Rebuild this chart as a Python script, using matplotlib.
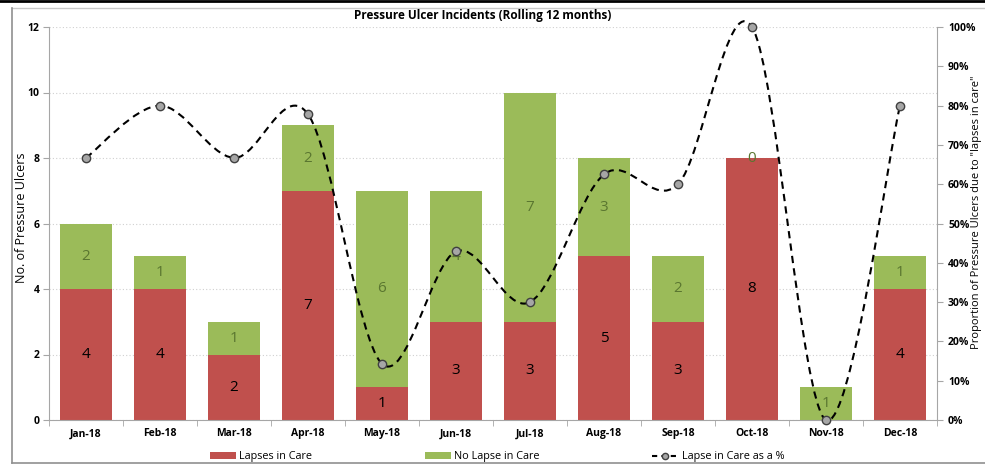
import numpy as np
import matplotlib
matplotlib.use("Agg")
import matplotlib.pyplot as plt
from matplotlib.lines import Line2D
from matplotlib.patches import Patch
from matplotlib.path import Path
from matplotlib.patches import PathPatch

plt.rcParams['font.family'] = ['Open Sans', 'DejaVu Sans']

months = ["Jan-18", "Feb-18", "Mar-18", "Apr-18", "May-18", "Jun-18",
          "Jul-18", "Aug-18", "Sep-18", "Oct-18", "Nov-18", "Dec-18"]
lapses = [4, 4, 2, 7, 1, 3, 3, 5, 3, 8, 0, 4]
no_lapse = [2, 1, 1, 2, 6, 4, 7, 3, 2, 0, 1, 1]
lapse_pct = [66.7, 80.0, 66.7, 77.8, 14.3, 42.9, 30.0, 62.5, 60.0, 100.0, 0.0, 80.0]

RED = "#C0504D"
GREEN = "#9BBB59"
GREEN_TXT = "#5A7630"
GRID = "#D0D0D0"
SPINE = "#A6A6A6"

W, H = 985, 466
fig = plt.figure(figsize=(W / 100, H / 100), dpi=100)

def px(x0, y0, x1, y1):
    return [x0 / W, 1 - y1 / H, (x1 - x0) / W, (y1 - y0) / H]

ax = fig.add_axes(px(49, 27, 937, 420))
x = np.arange(len(months))
bw = 0.69

ax.bar(x, lapses, bw, color=RED, zorder=2)
ax.bar(x, no_lapse, bw, bottom=lapses, color=GREEN, zorder=2)

for xi, v in zip(x, lapses):
    if v > 0:
        ax.text(xi, v / 2, str(v), ha="center", va="center", fontsize=11,
                color="black", zorder=3)
for xi, b, v in zip(x, lapses, no_lapse):
    ax.text(xi, b + v / 2, str(v), ha="center", va="center", fontsize=11,
            color=GREEN_TXT, zorder=3)

ax.set_xlim(-0.5, len(months) - 0.5)
ax.set_ylim(0, 12)
ax.set_yticks(range(0, 13, 2))
ax.set_xticks(x)
ax.set_xticklabels(months, fontsize=7.5, fontweight="bold")
ax.set_xticks(np.arange(-0.5, len(months), 1), minor=True)
ax.tick_params(axis="x", which="major", length=0, pad=6)
ax.tick_params(axis="x", which="minor", length=4, color=SPINE)
ax.tick_params(axis="y", labelsize=7.5, length=4, color=SPINE, pad=3)
for lab in ax.get_yticklabels():
    lab.set_fontweight("bold")
ax.yaxis.grid(True, color=GRID, linestyle=(0, (1, 2)), linewidth=0.8, zorder=0)
ax.set_axisbelow(True)
for s in ["top", "right"]:
    ax.spines[s].set_visible(False)
for s in ["left", "bottom"]:
    ax.spines[s].set_color(SPINE)

ax2 = ax.twinx()
ax2.set_ylim(0, 100)
ax2.set_yticks(range(0, 101, 10))
ax2.set_yticklabels([f"{t}%" for t in range(0, 101, 10)], fontsize=7.5,
                    fontweight="bold")
ax2.tick_params(axis="y", length=4, color=SPINE, pad=4)
for s in ["top", "left", "bottom"]:
    ax2.spines[s].set_visible(False)
ax2.spines["right"].set_color(SPINE)

# Titles and axis labels placed in figure pixels
fig.text(483 / W, 1 - 16 / H, "Pressure Ulcer Incidents (Rolling 12 months)",
         ha="center", va="center", fontsize=8.5, fontweight="bold")
fig.text(22 / W, 1 - 218 / H, "No. of Pressure Ulcers", rotation=90,
         ha="center", va="center", fontsize=9)
fig.text(977 / W, 1 - 212 / H,
         'Proportion of Pressure Ulcers due to "lapses in care"', rotation=90,
         ha="center", va="center", fontsize=8)

# Smoothed curve through the percentage points (cubic Bezier segments)
pts = np.column_stack([x, lapse_pct]).astype(float)
verts = [tuple(pts[0])]
codes = [Path.MOVETO]
n = len(pts)
for i in range(n - 1):
    p0 = pts[i - 1] if i > 0 else pts[i]
    p1 = pts[i]
    p2 = pts[i + 1]
    p3 = pts[i + 2] if i + 2 < n else pts[i + 1]
    c1 = p1 + (p2 - p0) / 6.0
    c2 = p2 - (p3 - p1) / 6.0
    verts += [tuple(c1), tuple(c2), tuple(p2)]
    codes += [Path.CURVE4] * 3
curve = PathPatch(Path(verts, codes), fill=False, edgecolor="black",
                  linewidth=1.5, linestyle=(0, (3.5, 2.5)), zorder=4,
                  clip_on=False)
ax2.add_patch(curve)
ax2.plot(x, lapse_pct, linestyle="none", marker="o", markersize=6,
         markerfacecolor="#A6A6A6", markeredgecolor="#404040",
         markeredgewidth=1.0, zorder=5, clip_on=False)

handles = [
    Patch(facecolor=RED, label="Lapses in Care"),
    Patch(facecolor=GREEN, label="No Lapse in Care"),
    Line2D([0], [0], color="black", linestyle=(0, (2.5, 2)), linewidth=1.5,
           marker="o", markersize=4.5, markerfacecolor="#A6A6A6",
           markeredgecolor="#404040", label="Lapse in Care as a %"),
]
fig.legend(handles=handles, loc="center left",
           bbox_to_anchor=(210 / W, 1 - 457 / H), borderaxespad=0,
           borderpad=0, ncol=3, frameon=False, fontsize=7.8, columnspacing=10.4,
           handlelength=2.4, handleheight=0.6, handletextpad=0.3)

# Outer frame of the chart
fig.add_artist(Line2D([0, 1], [1 - 1 / H, 1 - 1 / H], color="black",
                      linewidth=2.0, transform=fig.transFigure))
fig.add_artist(Line2D([12 / W, 1], [1 - 8 / H, 1 - 8 / H], color="#C8C8C8",
                      linewidth=1.0, transform=fig.transFigure))
fig.add_artist(Line2D([12 / W, 12 / W], [1 - 8 / H, 1 - 463 / H],
                      color="#909090", linewidth=1.2, transform=fig.transFigure))
fig.add_artist(Line2D([12 / W, 1], [1 - 463 / H, 1 - 463 / H],
                      color="#909090", linewidth=1.2, transform=fig.transFigure))

fig.savefig("out.png", dpi=100)
